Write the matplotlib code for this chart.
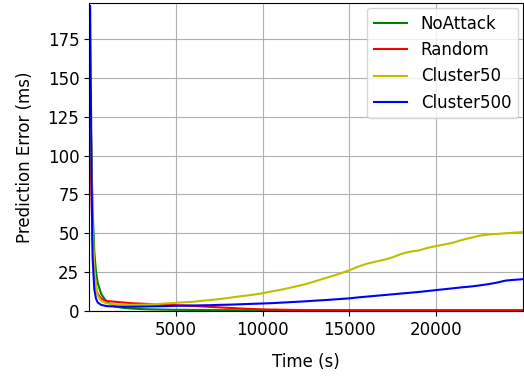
import numpy as np
import matplotlib
matplotlib.use('Agg')
import matplotlib.pyplot as plt

t = [60, 150, 200, 300, 400, 500, 700, 1000, 1500, 2000, 2500, 3000, 3500, 4000, 4500] + list(range(5000, 25001, 500))

no_attack = [140, 95, 65, 38, 25, 18, 11, 6, 3, 2, 1.6, 1.3, 1.1, 1.0, 0.9,
             0.8, 0.8, 0.7, 0.7, 0.6, 0.6, 0.6, 0.5, 0.5, 0.5, 0.5, 0.5, 0.5, 0.5, 0.5,
             0.5, 0.5, 0.5, 0.5, 0.5, 0.5, 0.5, 0.5, 0.5, 0.5, 0.5, 0.5, 0.5, 0.5, 0.5,
             0.5, 0.5, 0.5, 0.5, 0.5, 0.5, 0.5, 0.5, 0.5, 0.5, 0.5]
random_ = [110, 70, 45, 25, 15, 11, 8, 6.5, 6, 5.5, 5, 4.8, 4.5, 4.3, 4.1,
           3.8, 3.6, 3.3, 3.0, 2.7, 2.4, 2.1, 1.8, 1.5, 1.3, 1.1, 1.0, 0.9, 0.8, 0.7,
           0.6, 0.6, 0.6, 0.6, 0.6, 0.5, 0.5, 0.5, 0.5, 0.5, 0.5, 0.5, 0.5, 0.5, 0.5,
           0.5, 0.5, 0.5, 0.5, 0.5, 0.5, 0.5, 0.5, 0.5, 0.5, 0.5]
cluster50 = [150, 90, 55, 28, 16, 10, 6.5, 5, 4.3, 4.1, 4.0, 4.1, 4.3, 4.6, 5.0,
             5.3, 5.7, 6.0, 6.6, 7.1, 7.7, 8.4, 9.2, 9.9, 10.6, 11.5, 12.6, 13.6, 14.8, 16.1,
             17.4, 19.1, 20.8, 22.5, 24.3, 26.2, 28.6, 30.4, 31.8, 33.0, 34.6, 36.8, 38.2, 39.0, 40.6,
             41.8, 42.9, 44.0, 45.8, 47.1, 48.5, 49.2, 49.6, 50.0, 50.4, 50.8]
cluster500 = [196, 80, 35, 14, 8, 5.5, 4, 3.2, 2.9, 2.8, 2.8, 2.9, 3.0, 3.1, 3.2,
              3.4, 3.5, 3.6, 3.7, 3.8, 4.0, 4.1, 4.3, 4.5, 4.7, 4.9, 5.1, 5.4, 5.7, 6.0,
              6.3, 6.7, 7.0, 7.4, 7.8, 8.2, 8.8, 9.3, 9.8, 10.3, 10.8, 11.3, 11.8, 12.3, 12.9,
              13.5, 14.1, 14.7, 15.3, 15.8, 16.5, 17.3, 18.3, 19.6, 20.1, 20.5]

plt.rcParams['font.size'] = 12
fig = plt.figure(figsize=(5.24, 3.78), dpi=100)
ax = fig.add_axes([0.170, 0.177, 0.828, 0.815])
ax.plot(t, no_attack, color='g', lw=1.5, label='NoAttack')
ax.plot(t, random_, color='r', lw=1.5, label='Random')
ax.plot(t, cluster50, color='y', lw=1.5, label='Cluster50')
ax.plot(t, cluster500, color='b', lw=1.5, label='Cluster500')
ax.set_xlim(0, 25000)
ax.set_ylim(0, 198)
ax.set_xticks([5000, 10000, 15000, 20000])
ax.set_yticks(np.arange(0, 176, 25))
ax.grid(True)
ax.set_xlabel('Time (s)', labelpad=10)
ax.set_ylabel('Prediction Error (ms)', labelpad=10)
ax.legend(loc='upper right', borderaxespad=0.3)
fig.savefig('out.png')
